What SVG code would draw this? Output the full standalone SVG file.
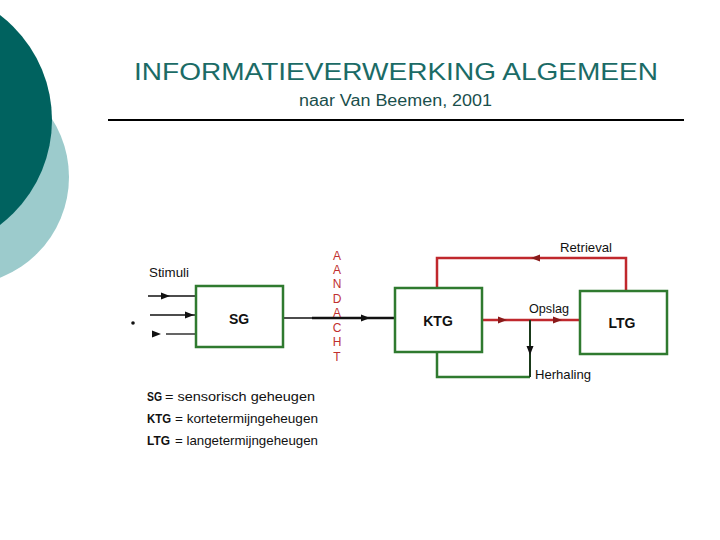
<svg xmlns="http://www.w3.org/2000/svg" width="720" height="540" viewBox="0 0 720 540">
<style>
.box{fill:#fff;stroke:#2f7a2f;stroke-width:2.5}
.lbl{font-family:"Liberation Sans",Arial,sans-serif;font-size:13px;fill:#111}
.bold{font-weight:bold}
.nm{font-family:"Liberation Sans",Arial,sans-serif;font-size:14px;font-weight:bold;fill:#111;text-anchor:middle}
.red{stroke:#c0282d;stroke-width:2.5;fill:none}
.grn{stroke:#2f7a2f;stroke-width:2.5;fill:none}
.blk{stroke:#111;fill:none}
.ah{fill:#111}
.ahr{fill:#8a1a1a}
.aan{font-family:"Liberation Sans",Arial,sans-serif;font-size:12px;fill:#c0302f;text-anchor:middle}
</style>
<defs>
<path id="arr" d="M4,0 L-5,-3.5 L-5,3.5 Z"/>
</defs>
<rect width="720" height="540" fill="#fff"/>
<g id="background">
<circle cx="-39" cy="177" r="108" fill="#9ccbcc"/>
<circle cx="-80" cy="120" r="132" fill="#00625f"/>
</g>
<g id="title">
<text x="396" y="80" text-anchor="middle" font-family="Liberation Sans,Arial,sans-serif" font-size="24" fill="#1b6b66" textLength="524" lengthAdjust="spacingAndGlyphs">INFORMATIEVERWERKING ALGEMEEN</text>
<text x="395.5" y="106" text-anchor="middle" font-family="Liberation Sans,Arial,sans-serif" font-size="16" fill="#1a4f4c" textLength="193" lengthAdjust="spacingAndGlyphs">naar Van Beemen, 2001</text>
<line x1="108" y1="120" x2="684" y2="120" stroke="#000" stroke-width="2"/>
</g>
<g id="connectors">
<line class="blk" x1="148" y1="296" x2="196" y2="296" stroke-width="1.3"/>
<use href="#arr" class="ah" x="166" y="296"/>
<line class="blk" x1="150" y1="315" x2="196" y2="315" stroke-width="1.3"/>
<use href="#arr" class="ah" x="190" y="315"/>
<line class="blk" x1="166" y1="334" x2="196" y2="334" stroke-width="1.3"/>
<use href="#arr" class="ah" x="157" y="334"/>
<circle cx="133" cy="323" r="1.8" fill="#111"/>
<line class="blk" x1="283" y1="318" x2="395" y2="318" stroke-width="1.4"/>
<line class="blk" x1="312" y1="318" x2="395" y2="318" stroke-width="2.3"/>
<use href="#arr" class="ah" x="366" y="318"/>
<path class="red" d="M626,291 V258 H437 V288"/>
<use href="#arr" class="ahr" transform="translate(535,258) rotate(180)"/>
<path class="red" d="M482,320 H580"/>
<use href="#arr" class="ahr" x="503" y="320"/>
<use href="#arr" class="ahr" x="558" y="320"/>
<path class="grn" d="M437,352 V377 H530"/>
<path d="M530,377 V320" stroke="#1a3a1a" stroke-width="2" fill="none"/>
<use href="#arr" class="ah" transform="translate(530,351) rotate(90)"/>
</g>
<g id="stimuli">
<text class="lbl" x="149" y="277" textLength="40" lengthAdjust="spacingAndGlyphs">Stimuli</text>
</g>
<g id="SG">
<rect class="box" x="196" y="286" width="87" height="61"/>
<text class="nm" x="239" y="324">SG</text>
</g>
<g id="aandacht">
<text class="aan" x="337" y="259.5">A</text>
<text class="aan" x="337" y="274">A</text>
<text class="aan" x="337" y="288">N</text>
<text class="aan" x="337" y="303">D</text>
<text class="aan" x="337" y="317">A</text>
<text class="aan" x="337" y="332">C</text>
<text class="aan" x="337" y="346">H</text>
<text class="aan" x="337" y="360.5">T</text>
</g>
<g id="KTG">
<rect class="box" x="395" y="288" width="87" height="64"/>
<text class="nm" x="438" y="326">KTG</text>
</g>
<g id="LTG">
<rect class="box" x="580" y="291" width="87" height="63"/>
<text class="nm" x="622" y="328">LTG</text>
</g>
<g id="labels">
<text class="lbl" x="560" y="252" textLength="52" lengthAdjust="spacingAndGlyphs">Retrieval</text>
<text class="lbl" x="529" y="313" textLength="40" lengthAdjust="spacingAndGlyphs">Opslag</text>
<text class="lbl" x="535" y="379" textLength="56" lengthAdjust="spacingAndGlyphs">Herhaling</text>
</g>
<g id="legend">
<text class="lbl bold" x="147" y="401" textLength="15" lengthAdjust="spacingAndGlyphs">SG</text>
<text class="lbl" x="165" y="401" textLength="150" lengthAdjust="spacingAndGlyphs">= sensorisch geheugen</text>
<text class="lbl bold" x="147" y="423" textLength="24" lengthAdjust="spacingAndGlyphs">KTG</text>
<text class="lbl" x="175" y="423" textLength="143" lengthAdjust="spacingAndGlyphs">= kortetermijngeheugen</text>
<text class="lbl bold" x="147" y="445" textLength="23" lengthAdjust="spacingAndGlyphs">LTG</text>
<text class="lbl" x="175" y="445" textLength="143" lengthAdjust="spacingAndGlyphs">= langetermijngeheugen</text>
</g>
</svg>
